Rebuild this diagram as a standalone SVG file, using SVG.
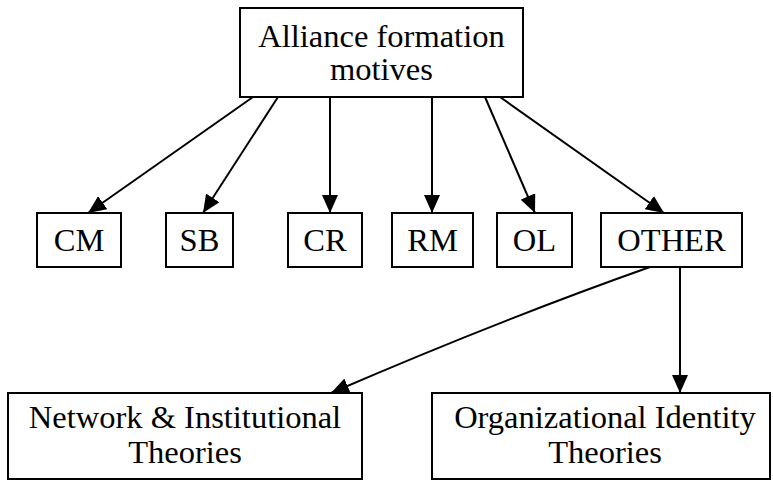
<svg xmlns="http://www.w3.org/2000/svg" width="773" height="481" viewBox="0 0 773 481">
<style>
.box{fill:#fff;stroke:#000;stroke-width:2}
.t{font-family:"Liberation Serif","Times New Roman",serif;font-size:32.5px;fill:#000;text-anchor:middle}
.c{stroke:#000;stroke-width:2;fill:none;marker-end:url(#ah)}
</style>
<defs>
<marker id="ah" viewBox="0 0 18 16" refX="18" refY="8" markerWidth="18" markerHeight="16" markerUnits="userSpaceOnUse" orient="auto">
<path d="M0,0 L18,8 L0,16 Z" fill="#000"/>
</marker>
</defs>
<rect width="773" height="481" fill="#fff"/>
<g id="connectors">
<line class="c" x1="253" y1="97" x2="88" y2="213"/>
<line class="c" x1="278" y1="97" x2="203" y2="213"/>
<line class="c" x1="330" y1="97" x2="330" y2="213"/>
<line class="c" x1="432" y1="97" x2="432" y2="213"/>
<line class="c" x1="485" y1="97" x2="535" y2="213"/>
<line class="c" x1="500" y1="97" x2="664" y2="213"/>
<path class="c" d="M650,267 Q500,320 331,393"/>
<line class="c" x1="680" y1="267" x2="680" y2="393"/>
</g>
<g id="top">
<rect class="box" x="240" y="8" width="283" height="89"/>
<text class="t" x="381.5" y="47">Alliance formation</text>
<text class="t" x="381.5" y="80">motives</text>
</g>
<g id="cm">
<rect class="box" x="37" y="213" width="84" height="54"/>
<text class="t" x="79" y="251">CM</text>
</g>
<g id="sb">
<rect class="box" x="166" y="213" width="67" height="54"/>
<text class="t" x="199.5" y="251">SB</text>
</g>
<g id="cr">
<rect class="box" x="288" y="213" width="74" height="54"/>
<text class="t" x="325" y="251">CR</text>
</g>
<g id="rm">
<rect class="box" x="392" y="213" width="81" height="54"/>
<text class="t" x="432.5" y="251">RM</text>
</g>
<g id="ol">
<rect class="box" x="497" y="213" width="75" height="54"/>
<text class="t" x="534.5" y="251">OL</text>
</g>
<g id="other">
<rect class="box" x="601" y="213" width="141" height="54"/>
<text class="t" x="671.5" y="251">OTHER</text>
</g>
<g id="network">
<rect class="box" x="8" y="393" width="354" height="86"/>
<text class="t" x="185" y="428">Network &amp; Institutional</text>
<text class="t" x="185" y="463">Theories</text>
</g>
<g id="orgid">
<rect class="box" x="432" y="393" width="338" height="86"/>
<text class="t" x="605" y="428">Organizational Identity</text>
<text class="t" x="605" y="463">Theories</text>
</g>
</svg>
